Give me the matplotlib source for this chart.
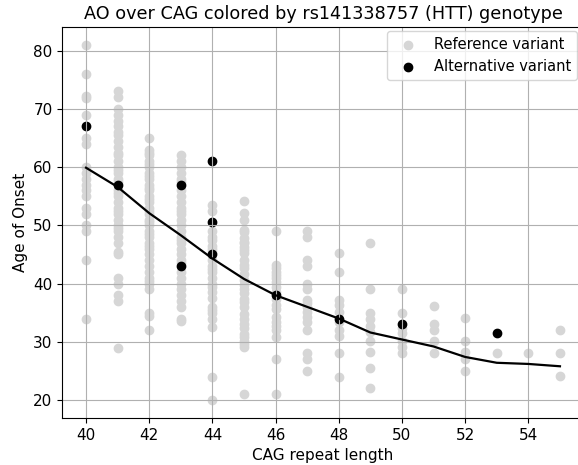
import matplotlib
matplotlib.use("Agg")
import matplotlib.pyplot as plt

# Reference variant (grey) AO values per CAG repeat length
ref_ao = {
    40: [81, 76, 72.3, 71.8, 69, 65, 64, 60, 59, 58, 57, 56, 55, 53, 52, 50, 49, 44, 34],
    41: [73, 72, 70, 69, 68, 67, 66, 65.5, 64.5, 63.5, 62.5, 62, 61, 60, 59.5, 59, 58, 57.5,
         56, 55.5, 55, 54, 53, 52.5, 52, 51, 50, 49.5, 49, 48, 47, 45.5, 45, 41, 40, 38, 37, 29],
    42: [65, 63, 62.5, 62, 61, 60.5, 60, 59, 58.5, 58, 57, 56.5, 56, 55, 54.5, 54, 53, 52.5,
         52, 51, 50.5, 50, 49, 48.5, 48, 47, 46.5, 46, 45, 44, 43, 42, 41, 40.5, 40, 39, 35, 34.5, 32],
    43: [62, 61, 60, 59, 58, 57.5, 56, 55, 54, 53, 52.5, 52, 51, 50, 49, 48, 47.5, 47, 46, 45,
         44, 43.5, 42, 41, 40, 39, 38, 37, 36, 34, 33.5],
    44: [53.5, 52.5, 49, 48, 47.5, 46.5, 46, 45.5, 44, 43, 42.5, 42, 41, 40, 39.5, 38.5, 37.5,
         36, 35.5, 35, 34, 32.5, 24, 20],
    45: [54.1, 52.1, 51, 49.2, 48.9, 47.8, 47.2, 46.9, 46.3, 45.7, 45.2, 44, 43.2, 42.6, 41.7,
         40.6, 39.7, 39.1, 38.3, 37.4, 36.8, 36, 34.8, 34, 33.1, 32.3, 31.4, 30.8, 30.2, 29.7, 29.1, 21],
    46: [49, 43.2, 42.6, 42, 41.4, 40.9, 40.3, 39.4, 38.6, 37.4, 36.3, 35.7, 34.3, 33.4, 32.8,
         32, 30.8, 27.1, 21],
    47: [49, 48, 44, 43, 40, 39, 37.1, 36.6, 36, 35.1, 34.3, 33.4, 32.1, 28, 27.1, 25],
    48: [45.2, 42, 37.2, 36.3, 35.1, 33.4, 32, 31, 28, 24],
    49: [47, 39, 35, 34, 32.8, 31.7, 30.2, 28.2, 25.5, 22],
    50: [39, 35, 32.3, 31.5, 30.2, 29.1, 28.1],
    51: [36.1, 33, 32.1, 30.2, 28.1],
    52: [34.1, 30.2, 28.2, 27, 25],
    53: [28.1],
    54: [28.1],
    55: [32.1, 28.1, 24.1],
}

# Alternative variant (black)
alt_cag = [40, 41, 43, 43, 44, 44, 44, 46, 48, 50, 53]
alt_ao = [67, 57, 57, 43, 61, 50.5, 45, 38, 34, 33, 31.5]

# Trend line
line_cag = list(range(40, 56))
line_ao = [59.9, 56.6, 52.1, 48.3, 44.3, 40.8, 38.0, 36.0, 34.0, 31.6, 30.4, 29.2,
           27.4, 26.4, 26.2, 25.8]

ref_x, ref_y = [], []
for c, vals in ref_ao.items():
    ref_x += [c] * len(vals)
    ref_y += vals

plt.rcParams["font.size"] = 11

fig = plt.figure(figsize=(5.78, 4.65), dpi=100)
ax = fig.add_axes([0.1078, 0.1015, 0.902, 0.8402])

ax.scatter(ref_x, ref_y, s=36, color="#d6d6d6", label="Reference variant")
ax.scatter(alt_cag, alt_ao, s=36, color="black", label="Alternative variant")
ax.plot(line_cag, line_ao, color="black", linewidth=1.6)

ax.set_xlim(39.25, 55.75)
ax.set_ylim(16.95, 84.05)
ax.set_xticks(range(40, 56, 2))
ax.set_yticks(range(20, 81, 10))
ax.grid(True)
ax.set_xlabel("CAG repeat length")
ax.set_ylabel("Age of Onset")
ax.set_title("AO over CAG colored by rs141338757 (HTT) genotype", fontsize=12.7)

ax.legend(loc="upper right", bbox_to_anchor=(577 / 578, (465 - 31) / 465),
          bbox_transform=fig.transFigure, borderaxespad=0, fontsize=10.5)

fig.savefig("out.png", dpi=100)
